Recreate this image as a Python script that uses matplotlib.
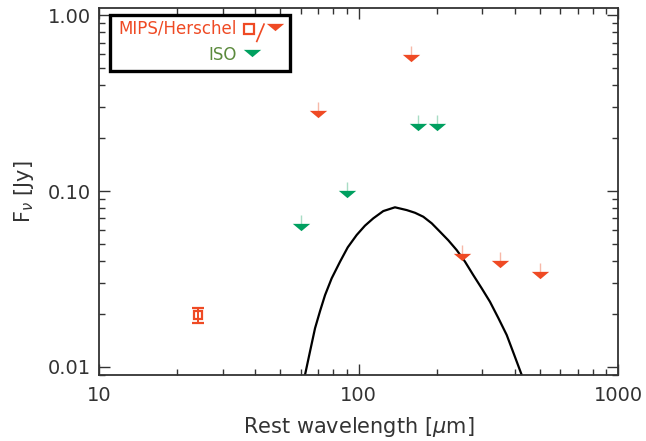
#!/usr/bin/env python

import numpy as np
from matplotlib import pyplot as plt
from matplotlib.patches import Rectangle

# MIPS 24 um detection
mips_wave = [24.0]
mips_flux = [0.0197]
mips_err = [0.0019]

# MIPS/Herschel upper limits
hers_wave = [70.0, 160.0, 250.0, 350.0, 500.0]
hers_flux = [0.274, 0.571, 0.0423, 0.0383, 0.0333]

# ISO upper limits
iso_wave = [60.0, 90.0, 170.0, 200.0]
iso_flux = [0.0627, 0.0962, 0.231, 0.231]

# dust model curve
model_wave = [62.2, 65.0, 68.0, 71.1, 74.3, 78.8, 84.9, 90.9, 98.4, 105.9,
              114.0, 124.6, 138.2, 153.4, 165.1, 177.7, 191.5, 206.2, 221.9,
              239.0, 257.3, 276.9, 298.4, 321.0, 345.7, 372.5, 397.4, 425.6]
model_flux = [0.0090, 0.0122, 0.0166, 0.0208, 0.0256, 0.0319, 0.0397, 0.0479,
              0.0563, 0.0636, 0.0700, 0.0770, 0.0809, 0.0780, 0.0753, 0.0715,
              0.0656, 0.0587, 0.0525, 0.0462, 0.0397, 0.0333, 0.0280, 0.0235,
              0.0190, 0.0152, 0.0118, 0.0090]

RED = "#ef4a24"
GREEN = "#00a060"
ISO_TEXT = "#5b8a3c"
TXT = "#333333"

# flattened down-pointing triangle
TRI = [(-1.0, 0.42), (1.0, 0.42), (0.0, -0.42), (-1.0, 0.42)]

plt.rcParams["font.family"] = ["DejaVu Sans"]

fig = plt.figure(figsize=(6.46, 4.41), dpi=100)
fig.subplots_adjust(left=99 / 646, right=618 / 646, top=1 - 8 / 441, bottom=1 - 375 / 441)
ax = fig.add_subplot(111)

ax.set_xscale("log")
ax.set_yscale("log")
ax.set_xlim(10, 1000)
ax.set_ylim(0.009, 1.1)

# model
ax.plot(model_wave, model_flux, color="black", lw=1.6, zorder=2)

# upper-limit stems
hw = np.array(hers_wave)
hf = np.array(hers_flux)
iw = np.array(iso_wave)
iflx = np.array(iso_flux)
ax.vlines(hw, hf, hf * 1.17, color="#f7b8a8", lw=1, zorder=1)
ax.vlines(iw, iflx, iflx * 1.17, color="#a8dcc4", lw=1, zorder=1)

ax.plot(hw, hf, ls="none", marker=TRI, ms=12.5, color=RED, mec="none", zorder=3)
ax.plot(iw, iflx, ls="none", marker=TRI, ms=12.5, color=GREEN, mec="none", zorder=3)

# MIPS detection
ax.errorbar(mips_wave, mips_flux, yerr=mips_err, fmt="s", ms=6, mfc="none",
            mec=RED, mew=1.6, ecolor=RED, elinewidth=1.4, capsize=4, capthick=1.4,
            zorder=3)

# axes styling
for s in ax.spines.values():
    s.set_linewidth(1.3)
    s.set_color("#333333")
ax.tick_params(which="both", direction="in", top=True, right=True, color="#333333",
               labelsize=14, labelcolor=TXT)
ax.tick_params(axis="x", pad=8)
ax.tick_params(axis="y", pad=6)
ax.tick_params(which="major", length=8, width=1)
ax.tick_params(which="minor", length=4.5, width=1)
ax.set_xticks([10, 100, 1000])
ax.set_xticklabels(["10", "100", "1000"])
ax.set_yticks([0.01, 0.1, 1.0])
ax.set_yticklabels(["0.01", "0.10", "1.00"])

ax.set_xlabel(r"Rest wavelength [$\mu$m]", fontsize=15, color=TXT, labelpad=7)
ax.set_ylabel(r"F$_\nu$ [Jy]", fontsize=15, color=TXT, labelpad=8)

# legend box drawn by hand
ax.add_patch(Rectangle((0.021, 0.827), 0.347, 0.155, transform=ax.transAxes,
                       fill=False, ec="black", lw=2.4, zorder=5))
ax.text(0.265, 0.943, "MIPS/Herschel", transform=ax.transAxes, ha="right",
        va="center", fontsize=12, color=RED, zorder=6)
ax.plot([0.289], [0.944], transform=ax.transAxes, marker="s", ms=7, mfc="none",
        mec=RED, mew=1.6, ls="none", zorder=6)
ax.plot([0.304, 0.318], [0.909, 0.956], transform=ax.transAxes, color=RED, lw=1.2,
        zorder=6)
ax.plot([0.339], [0.948], transform=ax.transAxes, marker=TRI, ms=12.5, color=RED,
        mec="none", ls="none", zorder=6)
ax.text(0.265, 0.872, "ISO", transform=ax.transAxes, ha="right", va="center",
        fontsize=12, color=ISO_TEXT, zorder=6)
ax.plot([0.294], [0.877], transform=ax.transAxes, marker=TRI, ms=12.5, color=GREEN,
        mec="none", ls="none", zorder=6)

fig.savefig("out.png", dpi=100)
